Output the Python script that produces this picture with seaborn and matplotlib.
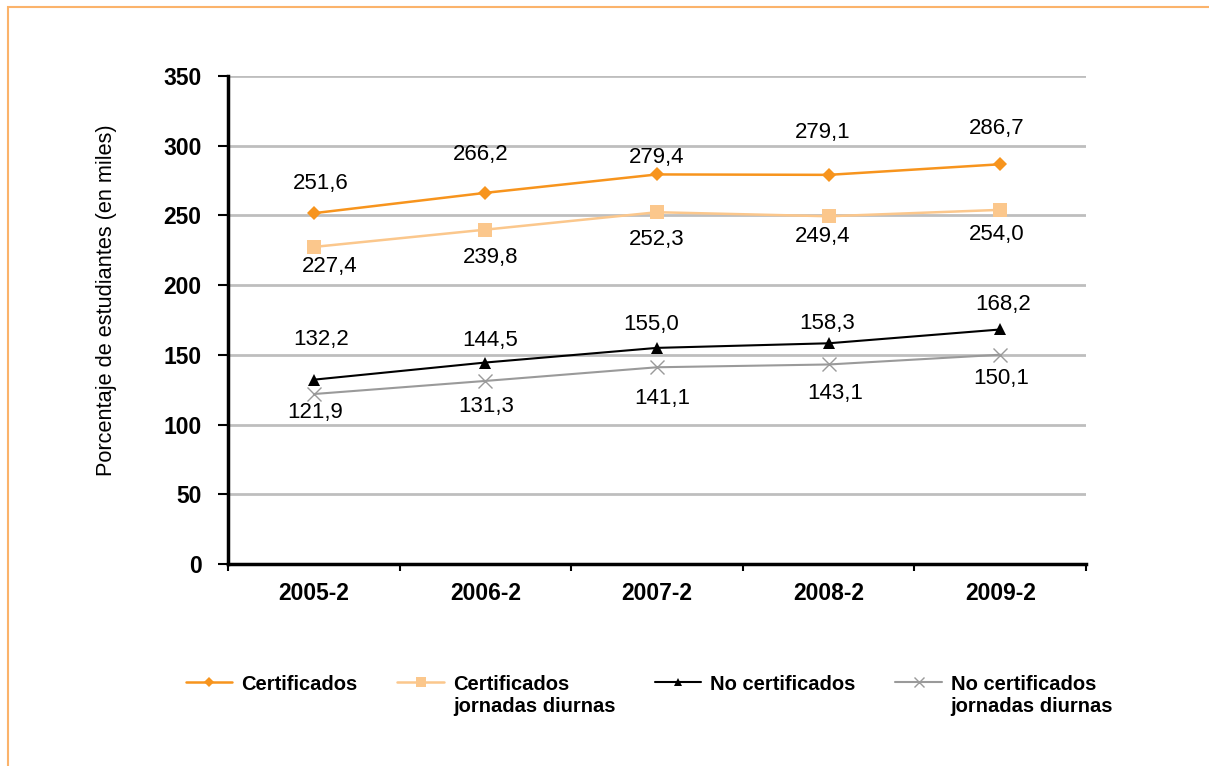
import matplotlib
matplotlib.use("Agg")
import matplotlib.pyplot as plt
import seaborn as sns
import pandas as pd
from matplotlib.patches import Rectangle

# ---- data ----
periods = ["2005-2", "2006-2", "2007-2", "2008-2", "2009-2"]
certificados = [251.6, 266.2, 279.4, 279.1, 286.7]
certificados_diurnas = [227.4, 239.8, 252.3, 249.4, 254.0]
no_certificados = [132.2, 144.5, 155.0, 158.3, 168.2]
no_certificados_diurnas = [121.9, 131.3, 141.1, 143.1, 150.1]
series_names = ["Certificados", "Certificados\njornadas diurnas",
                "No certificados", "No certificados\njornadas diurnas"]
y_ticks = [0, 50, 100, 150, 200, 250, 300, 350]
y_label = "Porcentaje de estudiantes (en miles)"

# ---- styles (label offsets in screen pixels: dx right, dy down) ----
label_offsets = [
    [(7, -30), (-5, -38), (0, -17), (-6, -42), (-4, -36)],
    [(16, 20), (5, 28), (0, 27), (-6, 20), (-4, 25)],
    [(7, -40), (5, -22), (-6, -23), (-1, -20), (3, -25)],
    [(1, 18), (1, 26), (5, 31), (7, 29), (1, 24)],
]
styles = [
    dict(color="#F7941D", marker="D", ms=7.5, lw=1.8, mew=0),
    dict(color="#FBC78C", marker="s", ms=10.5, lw=1.8, mew=0),
    dict(color="#000000", marker="^", ms=9, lw=1.5, mew=0),
    dict(color="#9A9A9A", marker="x", ms=10, lw=1.5, mew=1.0),
]

sns.set_theme(style="white")
plt.rcParams["font.family"] = ["Liberation Sans", "DejaVu Sans"]
plt.rcParams["text.color"] = "black"
plt.rcParams["axes.labelcolor"] = "black"
plt.rcParams["xtick.color"] = "black"
plt.rcParams["ytick.color"] = "black"

fig = plt.figure(figsize=(12.09, 7.66), dpi=100)
ax = fig.add_axes([228 / 1209, 1 - 564 / 766, (1086 - 228) / 1209, (564 - 76) / 766])

all_series = [certificados, certificados_diurnas, no_certificados, no_certificados_diurnas]
for name, vals, st, offs in zip(series_names, all_series, styles, label_offsets):
    df = pd.DataFrame({"periodo": periods, "valor": vals})
    sns.lineplot(data=df, x="periodo", y="valor", ax=ax, color=st["color"],
                 marker=st["marker"], markersize=st["ms"], linewidth=st["lw"],
                 markeredgewidth=st["mew"], markeredgecolor=st["color"],
                 label=name, zorder=3)
    for i, v in enumerate(vals):
        ax.annotate(f"{v:.1f}".replace(".", ","), (i, v),
                    xytext=(offs[i][0], -offs[i][1]), textcoords="offset pixels",
                    ha="center", va="center", fontsize=16, color="black")

ax.set_xlim(-0.5, len(periods) - 0.5)
ax.set_ylim(0, 350)
ax.set_yticks(y_ticks)
ax.set_yticklabels([str(t) for t in y_ticks], fontsize=16.5, fontweight="bold")
ax.set_xticks(range(len(periods)))
ax.set_xticklabels(periods, fontsize=16.5, fontweight="bold")
ax.set_xticks([i - 0.5 for i in range(len(periods) + 1)], minor=True)
ax.tick_params(axis="x", which="major", length=0, pad=13)
ax.tick_params(axis="x", which="minor", length=5, width=1.5, color="black", direction="out", bottom=True)
ax.tick_params(axis="y", which="major", length=7, width=1.5, color="black", direction="out", left=True, pad=12)
ax.set_xlabel("")
ax.set_ylabel(y_label, fontsize=15.7, color="black")
ax.yaxis.set_label_coords(-(228 - 117) / (1086 - 228), (564 - 300) / 488)

ax.grid(axis="y", color="#BEBEBE", linewidth=2)
ax.grid(axis="x", visible=False)
ax.set_axisbelow(True)
for s in ["top", "right"]:
    ax.spines[s].set_visible(False)
for s in ["left", "bottom"]:
    ax.spines[s].set_color("black")
    ax.spines[s].set_linewidth(2.5)
    ax.spines[s].set_zorder(4)

ax.get_legend().remove()
h, l = ax.get_legend_handles_labels()
leg = fig.legend(h, l, loc="upper left", bbox_to_anchor=(176 / 1209, 1 - 665 / 766),
                 ncol=4, frameon=False, borderpad=0, handlelength=2.3,
                 handletextpad=0.45, columnspacing=1.97,
                 prop={"size": 14.5, "weight": "bold"})
for lh, st in zip(leg.legend_handles, styles):
    lh.set_markersize(st["ms"] * 0.7)
try:
    leg._legend_handle_box.align = "top"
    for col in leg._legend_handle_box.get_children():
        col.align = "top"
        for item in col.get_children():
            item.align = "top"
except Exception:
    pass

# outer light-orange frame (only top and left visible)
fig.patches.append(Rectangle((8 / 1209, -0.2), 1.5, 1.2 - 7 / 766, transform=fig.transFigure,
                             fill=False, edgecolor="#FBB36B", linewidth=1.5))

fig.savefig("out.png", dpi=100)
